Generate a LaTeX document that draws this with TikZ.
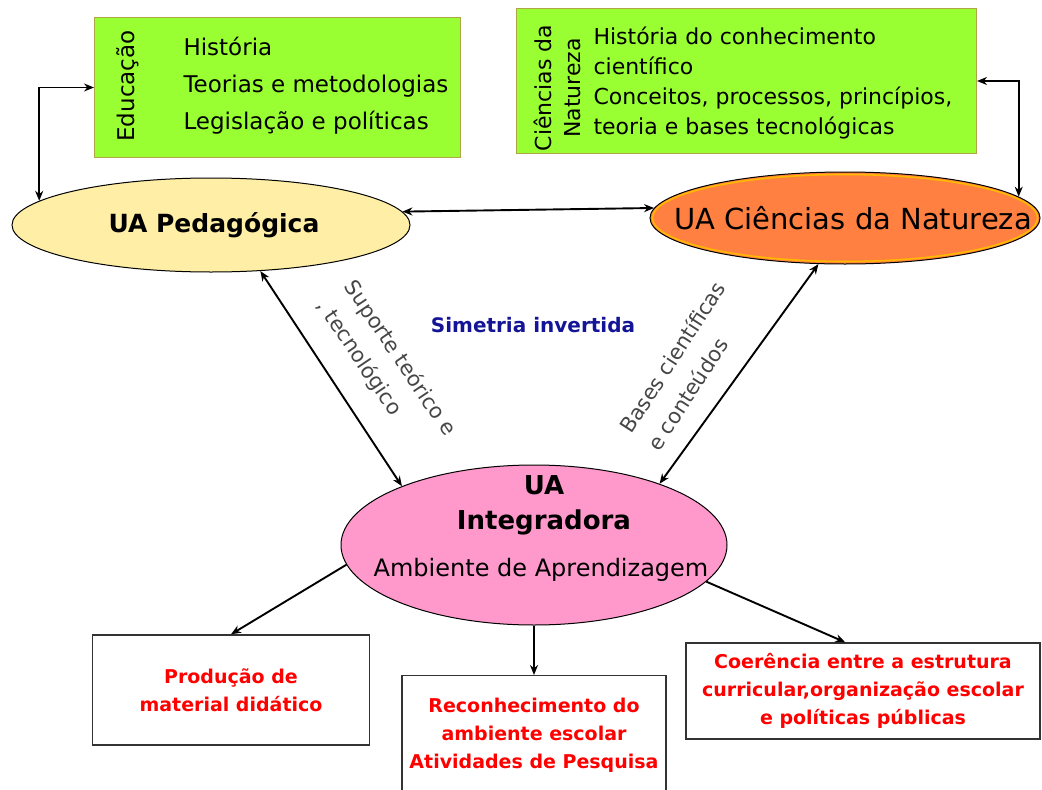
\documentclass[tikz,border=0pt]{standalone}
\usepackage{fontspec}
\setmainfont{DejaVu Sans}
\usepackage{xcolor}
\usetikzlibrary{shapes.geometric,arrows.meta}
\definecolor{boxgreen}{RGB}{153,255,51}
\definecolor{boxedge}{RGB}{175,165,70}
\definecolor{pedfill}{RGB}{255,238,165}
\definecolor{cnfill}{RGB}{255,128,64}
\definecolor{cnrim}{RGB}{255,185,0}
\definecolor{integfill}{RGB}{255,153,204}
\definecolor{labelgray}{RGB}{70,70,70}
\definecolor{simblue}{RGB}{20,20,150}
\tikzset{
  greenbox/.style={draw=boxedge, fill=boxgreen, line width=1pt, inner sep=0pt, anchor=north west},
  uaellipse/.style={ellipse, draw=black, line width=1pt, inner sep=0pt},
  redbox/.style={draw=black!80, fill=white, line width=1.4pt, text=red, align=center,
    font=\bfseries\fontsize{19}{28}\selectfont},
  twoway/.style={{Stealth[length=10pt,width=8pt]}-{Stealth[length=10pt,width=8pt]}, line width=1.9pt},
  oneway/.style={-{Stealth[length=10pt,width=8pt]}, line width=1.9pt},
  sidelabel/.style={text=labelgray, align=left, font=\fontsize{21}{33}\selectfont}
}

\begin{document}
\begin{tikzpicture}[x=1pt,y=-1pt]
  \useasboundingbox (0,0) rectangle (1042,790);

  % caixas verdes
  \node[greenbox, minimum width=366pt, minimum height=140pt] (edu) at (94,17) {};
  \node[rotate=90, font=\fontsize{23}{30}\selectfont] (edutag) at (128,86) {Educação};
  \node[anchor=west, align=left, font=\fontsize{23}{37}\selectfont] (edulist) at (180,86)
    {História\\Teorias e metodologias\\Legislação e políticas};

  \node[greenbox, minimum width=460pt, minimum height=145pt] (nat) at (516,8) {};
  \node[rotate=90, align=center, font=\fontsize{22}{29}\selectfont] (nattag) at (557,88)
    {Ciências da\\Natureza};
  \node[anchor=west, align=left, font=\fontsize{22}{30}\selectfont] (natlist) at (590,83)
    {História do conhecimento\\científico\\Conceitos, processos, princípios,\\teoria e bases tecnológicas};

  % unidades de aprendizagem
  \node[uaellipse, fill=pedfill, minimum width=398pt, minimum height=94pt] (ped) at (211,225) {};
  \node[font=\bfseries\fontsize{25}{30}\selectfont] (pedname) at (214,225) {UA Pedagógica};

  \node[uaellipse, fill=cnfill, minimum width=390pt, minimum height=92pt] (cn) at (845,218) {};
  \draw[cnrim, line width=1.6pt] (845,218) ellipse (192.5pt and 43.5pt);
  \node[font=\fontsize{29}{34}\selectfont] (cnname) at (853,218) {UA Ciências da Natureza};

  \node[uaellipse, fill=integfill, minimum width=386pt, minimum height=160pt] (integ) at (534,545) {};
  \node[align=center, font=\bfseries\fontsize{26}{35}\selectfont] (integname) at (544,505) {UA\\Integradora};
  \node[font=\fontsize{24}{30}\selectfont] (integsub) at (541,570) {Ambiente de Aprendizagem};

  \node[text=simblue, font=\bfseries\fontsize{20}{24}\selectfont] (sim) at (533,325) {Simetria invertida};

  % resultados
  \node[redbox, minimum width=277pt, minimum height=110pt] (prod) at (231,690)
    {Produção de\\material didático};
  \node[redbox, minimum width=264pt, minimum height=120pt, anchor=north] (recon) at (534,675)
    {Reconhecimento do\\ambiente escolar\\Atividades de Pesquisa};
  \node[redbox, minimum width=354pt, minimum height=96pt] (coer) at (863,691)
    {Coerência entre a estrutura\\curricular,organização escolar\\e políticas públicas};

  % ligações
  \draw[twoway] (edu.west) -| (ped.172);
  \draw[twoway] (nat.east) -| (cn.7);
  \draw[twoway] (ped.4.5) -- (cn.177.6);
  \draw[twoway] (ped.-43) -- (integ.156);
  \draw[twoway] (cn.-120) -- (integ.26);
  \draw[oneway] (integ.186) -- (prod.north);
  \draw[oneway] (integ.south) -- (recon.north);
  \draw[oneway] (integ.-12) -- (coer.110);

  \node[sidelabel, rotate=-56] (suporte) at (386,368) {Suporte teórico e\\, tecnológico};
  \node[sidelabel, rotate=57] (bases) at (686,366) {Bases científicas\\e conteúdos};
\end{tikzpicture}
\end{document}
